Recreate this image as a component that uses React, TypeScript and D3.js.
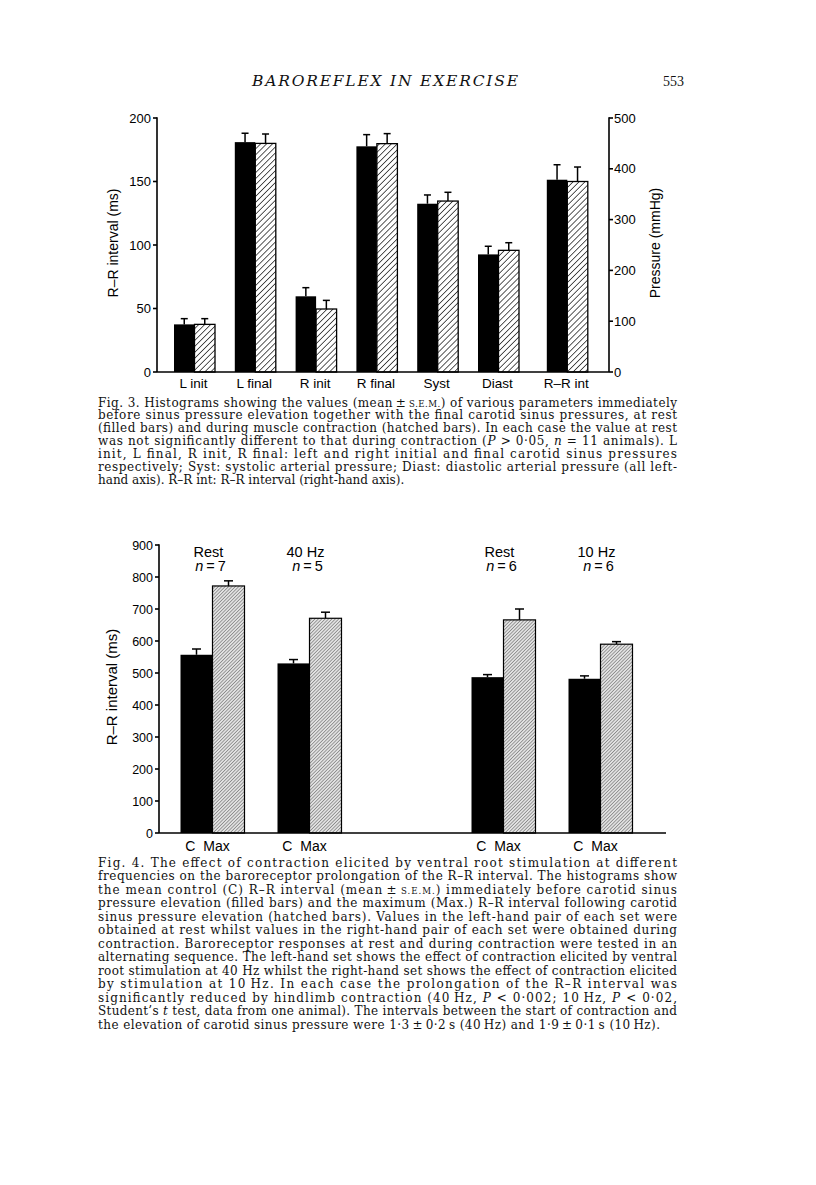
import React from 'react';
import * as d3 from 'd3';

// ---------- Fig. 3 data ----------
const fig3Categories = ['L init', 'L final', 'R init', 'R final', 'Syst', 'Diast', 'R–R int'];
const fig3Rest = [37.5, 181, 59.6, 177.7, 132.5, 92.6, 378.5];
const fig3RestSem = [4.5, 7, 6.8, 9.2, 6.9, 6.4, 29.5];
const fig3Contraction = [37.5, 180, 49.6, 179.8, 134.6, 95.8, 375];
const fig3ContractionSem = [4.5, 7.4, 6.8, 7.9, 6.9, 6, 28.5];
const fig3Axis = ['left', 'left', 'left', 'left', 'left', 'left', 'right'];
const fig3LeftTicks = [0, 50, 100, 150, 200];
const fig3RightTicks = [0, 100, 200, 300, 400, 500];

// ---------- Fig. 4 data ----------
const fig4Sets = ['40 Hz set', '10 Hz set'];
const fig4Conditions = ['rest', 'contraction'];
const fig4Labels = ['Rest', '40 Hz', 'Rest', '10 Hz'];
const fig4N = [7, 5, 6, 6];
const fig4Control = [557, 530, 487, 482];
const fig4ControlSem = [18, 12, 8, 9];
const fig4Max = [772, 671, 666, 590];
const fig4MaxSem = [16, 19, 34, 8];
const fig4Ticks = [0, 100, 200, 300, 400, 500, 600, 700, 800, 900];

// ---------- Text ----------
const header = 'BAROREFLEX IN EXERCISE';
const pageNumber = '553';
const caption3 = [
  'Fig. 3. Histograms showing the values (mean\u2009±\u2009^S.E.M.^) of various parameters immediately',
  'before sinus pressure elevation together with the final carotid sinus pressures, at rest',
  '(filled bars) and during muscle contraction (hatched bars). In each case the value at rest',
  'was not significantly different to that during contraction (*P* > 0·05, *n* = 11 animals). L',
  'init, L final, R init, R final: left and right initial and final carotid sinus pressures',
  'respectively; Syst: systolic arterial pressure; Diast: diastolic arterial pressure (all left-',
  'hand axis). R–R int: R–R interval (right-hand axis).',
];
const caption4 = [
  'Fig. 4. The effect of contraction elicited by ventral root stimulation at different',
  'frequencies on the baroreceptor prolongation of the R–R interval. The histograms show',
  'the mean control (C) R–R interval (mean\u2009±\u2009^S.E.M.^) immediately before carotid sinus',
  'pressure elevation (filled bars) and the maximum (Max.) R–R interval following carotid',
  'sinus pressure elevation (hatched bars). Values in the left-hand pair of each set were',
  'obtained at rest whilst values in the right-hand pair of each set were obtained during',
  'contraction. Baroreceptor responses at rest and during contraction were tested in an',
  'alternating sequence. The left-hand set shows the effect of contraction elicited by ventral',
  'root stimulation at 40 Hz whilst the right-hand set shows the effect of contraction elicited',
  'by stimulation at 10\u2009Hz. In each case the prolongation of the R–R interval was',
  'significantly reduced by hindlimb contraction (40\u2009Hz, *P* < 0·002; 10\u2009Hz, *P* < 0·02,',
  'Student\u2019s *t* test, data from one animal). The intervals between the start of contraction and',
  'the elevation of carotid sinus pressure were 1·3\u2009±\u20090·2\u2009s (40\u2009Hz) and 1·9\u2009±\u20090·1\u2009s (10\u2009Hz).',
];

const SANS = '"Liberation Sans", Arial, Helvetica, sans-serif';
const SERIF = '"DejaVu Serif", "Liberation Serif", serif';

function RichLine({ text, x, y, width }: { text: string; x: number; y: number; width?: number }) {
  const parts = text.split(/(\*[^*]+\*|\^[^^]+\^)/).filter((p) => p.length > 0);
  return (
    <text
      x={x}
      y={y}
      fontFamily={SERIF}
      fontSize={12}
      fill="#111"
      xmlSpace="preserve"
      {...(width ? { textLength: width, lengthAdjust: 'spacing' } : {})}
    >
      {parts.map((p, i) => {
        if (p.startsWith('*')) return <tspan key={i} fontStyle="italic">{p.slice(1, -1)}</tspan>;
        if (p.startsWith('^')) return <tspan key={i} fontSize={8.6}>{p.slice(1, -1)}</tspan>;
        return <tspan key={i}>{p}</tspan>;
      })}
    </text>
  );
}

function ErrorBar({ cx, yTop, yErr, cap }: { cx: number; yTop: number; yErr: number; cap: number }) {
  return (
    <g stroke="#000" strokeWidth={1.5}>
      <line x1={cx} x2={cx} y1={yTop} y2={yErr} />
      <line x1={cx - cap / 2} x2={cx + cap / 2} y1={yErr} y2={yErr} />
    </g>
  );
}

function Fig3() {
  const left = 157, right = 609, top = 118, bottom = 372;
  const yL = d3.scaleLinear().domain([0, 200]).range([bottom, top]);
  const yR = d3.scaleLinear().domain([0, 500]).range([bottom, top]);
  const step = 60.8;
  const x = d3.scalePoint<string>().domain(fig3Categories).range([194.5, 194.5 + step * (fig3Categories.length - 1)]);
  const extraGap = (c: string) => (c === 'R–R int' ? 8 : 0);
  const bw = 20.5;
  const tickLen = 4;
  return (
    <g>
      {fig3Categories.map((c, i) => {
        const y = fig3Axis[i] === 'left' ? yL : yR;
        const cx = (x(c) as number) + extraGap(c);
        return (
          <g key={c}>
            <ErrorBar cx={cx - bw / 2} yTop={y(fig3Rest[i])} yErr={y(fig3Rest[i] + fig3RestSem[i])} cap={7} />
            <ErrorBar cx={cx + bw / 2} yTop={y(fig3Contraction[i])} yErr={y(fig3Contraction[i] + fig3ContractionSem[i])} cap={7} />
            <rect x={cx - bw} y={y(fig3Rest[i])} width={bw} height={bottom - y(fig3Rest[i])} fill="#000" />
            <rect
              x={cx}
              y={y(fig3Contraction[i])}
              width={bw}
              height={bottom - y(fig3Contraction[i])}
              fill="url(#hatch3)"
              stroke="#000"
              strokeWidth={1.3}
            />
            <text x={cx - 1} y={387.5} textAnchor="middle" fontFamily={SANS} fontSize={13.5} fill="#000">
              {c}
            </text>
          </g>
        );
      })}
      <g stroke="#000" strokeWidth={1.6} fill="none">
        <line x1={left} x2={left} y1={top - 0.8} y2={bottom} />
        <line x1={right} x2={right} y1={top - 0.8} y2={bottom} />
        <line x1={left} x2={right} y1={bottom} y2={bottom} />
        {fig3LeftTicks.map((t) => (
          <line key={'l' + t} x1={left - tickLen} x2={left} y1={yL(t)} y2={yL(t)} />
        ))}
        {fig3RightTicks.map((t) => (
          <line key={'r' + t} x1={right} x2={right + tickLen} y1={yR(t)} y2={yR(t)} />
        ))}
      </g>
      {fig3LeftTicks.map((t) => (
        <text key={'lt' + t} x={left - 6} y={yL(t)} dy="0.36em" textAnchor="end" fontFamily={SANS} fontSize={13} fill="#000">
          {t}
        </text>
      ))}
      {fig3RightTicks.map((t) => (
        <text key={'rt' + t} x={right + 5} y={yR(t)} dy="0.36em" textAnchor="start" fontFamily={SANS} fontSize={13} fill="#000">
          {t}
        </text>
      ))}
      <text transform="translate(113,243) rotate(-90)" textAnchor="middle" dy="0.35em" fontFamily={SANS} fontSize={14} fill="#000">
        R–R interval (ms)
      </text>
      <text transform="translate(655,243) rotate(-90)" textAnchor="middle" dy="0.35em" fontFamily={SANS} fontSize={14} fill="#000">
        Pressure (mmHg)
      </text>
    </g>
  );
}

function Fig4() {
  const left = 159, right = 666, top = 545, bottom = 833;
  const y = d3.scaleLinear().domain([0, 900]).range([bottom, top]);
  const xSet = d3.scalePoint<string>().domain(fig4Sets).range([261, 552]);
  const xCond = d3.scalePoint<string>().domain(fig4Conditions).range([-48.5, 48.5]);
  const bw = 32;
  const tickLen = 4;
  return (
    <g>
      {fig4Labels.map((lab, i) => {
        const cx = (xSet(fig4Sets[Math.floor(i / 2)]) as number) + (xCond(fig4Conditions[i % 2]) as number);
        return (
          <g key={i}>
            <ErrorBar cx={cx - bw / 2} yTop={y(fig4Control[i])} yErr={y(fig4Control[i] + fig4ControlSem[i])} cap={9} />
            <ErrorBar cx={cx + bw / 2} yTop={y(fig4Max[i])} yErr={y(fig4Max[i] + fig4MaxSem[i])} cap={9} />
            <rect x={cx - bw} y={y(fig4Control[i])} width={bw} height={bottom - y(fig4Control[i])} fill="#000" />
            <rect
              x={cx}
              y={y(fig4Max[i])}
              width={bw}
              height={bottom - y(fig4Max[i])}
              fill="url(#hatch4)"
              stroke="#000"
              strokeWidth={1.2}
            />
            <text x={cx - 4} y={557} textAnchor="middle" fontFamily={SANS} fontSize={14.5} fill="#000">
              {lab}
            </text>
            <text x={cx - 2} y={571} textAnchor="middle" fontFamily={SANS} fontSize={14.5} fill="#000" xmlSpace="preserve">
              <tspan fontStyle="italic">n</tspan>
              {'\u2009=\u2009' + fig4N[i]}
            </text>
            <text x={cx - 5} y={850.5} textAnchor="middle" fontFamily={SANS} fontSize={14} fill="#000" xmlSpace="preserve">
              {'C  Max'}
            </text>
          </g>
        );
      })}
      <g stroke="#000" strokeWidth={1.6} fill="none">
        <line x1={left} x2={left} y1={top - 0.8} y2={bottom} />
        <line x1={left} x2={right} y1={bottom} y2={bottom} />
        {fig4Ticks.map((t) => (
          <line key={t} x1={left - tickLen} x2={left} y1={y(t)} y2={y(t)} />
        ))}
      </g>
      {fig4Ticks.map((t) => (
        <text key={'t' + t} x={left - 6} y={y(t)} dy="0.36em" textAnchor="end" fontFamily={SANS} fontSize={12.5} fill="#000">
          {t}
        </text>
      ))}
      <text transform="translate(112,687) rotate(-90)" textAnchor="middle" dy="0.35em" fontFamily={SANS} fontSize={15} fill="#000">
        R–R interval (ms)
      </text>
    </g>
  );
}

export default function App() {
  const textLeft = 98;
  const textWidth = 579;
  return (
    <svg
      width={816}
      height={1185}
      viewBox="0 0 816 1185"
      style={{ position: 'absolute', left: 0, top: 0, background: '#fff' }}
    >
      <defs>
        <pattern id="hatch3" width={4.2} height={4.2} patternUnits="userSpaceOnUse" patternTransform="rotate(45)">
          <rect width={4.2} height={4.2} fill="#fff" />
          <line x1={0} y1={0} x2={0} y2={4.2} stroke="#000" strokeWidth={1.3} />
        </pattern>
        <pattern id="hatch4" width={2.4} height={2.4} patternUnits="userSpaceOnUse" patternTransform="rotate(45)">
          <rect width={2.4} height={2.4} fill="#e2e2e2" />
          <line x1={0} y1={0} x2={0} y2={2.4} stroke="#3a3a3a" strokeWidth={0.85} />
        </pattern>
      </defs>
      <rect width={816} height={1185} fill="#fff" />
      <text x={252} y={86} fontFamily={SERIF} fontStyle="italic" fontSize={15.5} fill="#111" textLength={266} lengthAdjust="spacing">
        {header}
      </text>
      <text x={684} y={86} textAnchor="end" fontFamily='"Liberation Serif", serif' fontSize={14} fill="#111">
        {pageNumber}
      </text>
      <Fig3 />
      {caption3.map((line, i) => (
        <RichLine
          key={i}
          text={line}
          x={textLeft}
          y={406.5 + i * 12.9}
          width={i < caption3.length - 1 ? textWidth : undefined}
        />
      ))}
      <Fig4 />
      {caption4.map((line, i) => (
        <RichLine
          key={i}
          text={line}
          x={textLeft}
          y={866.5 + i * 13.5}
          width={i < caption4.length - 1 ? textWidth : 562}
        />
      ))}
    </svg>
  );
}
